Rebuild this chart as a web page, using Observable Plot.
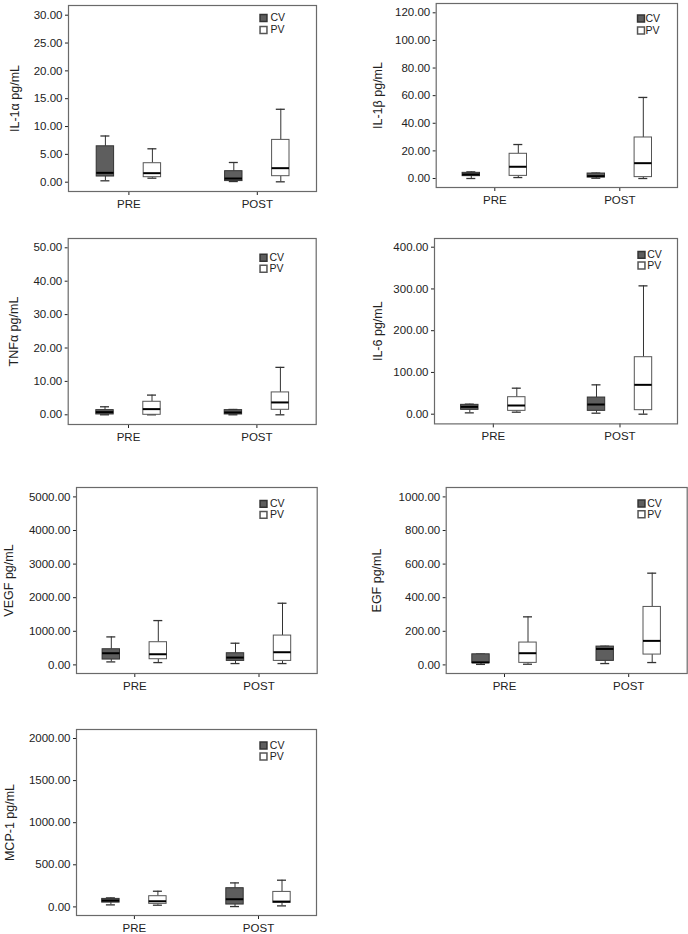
<!DOCTYPE html>
<html><head><meta charset="utf-8">
<script src="https://cdn.jsdelivr.net/npm/d3@7"></script>
<script src="https://cdn.jsdelivr.net/npm/@observablehq/plot@0.6"></script>
<style>
body{margin:0;background:#fff}
#c{position:relative;width:688px;height:934px;overflow:hidden;background:#fff}
#c svg{position:absolute;font-family:"Liberation Sans",Arial,sans-serif}
</style></head><body><div id="c"></div>
<script>
const times = ["PRE", "POST"];
const groups = ["CV", "PV"];
// each row: time, group, min, q1, median, q3, max (pg/mL)
const il1a = [
  ["PRE", "CV", 0.25, 1.02, 1.68, 6.45, 8.3],
  ["PRE", "PV", 0.72, 0.9, 1.62, 3.41, 6.0],
  ["POST", "CV", 0.12, 0.2, 0.66, 1.98, 3.54],
  ["POST", "PV", 0.07, 1.08, 2.52, 7.6, 13.1]
];
const il1b = [
  ["PRE", "CV", 0.0, 1.7, 2.9, 4.1, 4.8],
  ["PRE", "PV", 0.7, 1.9, 8.5, 17.9, 24.6],
  ["POST", "CV", 0.2, 0.7, 1.7, 3.6, 3.9],
  ["POST", "PV", 0.0, 1.0, 11.1, 29.7, 58.7]
];
const tnfa = [
  ["PRE", "CV", 0.0, 0.1, 0.8, 1.4, 2.4],
  ["PRE", "PV", 0.0, 0.0, 1.7, 3.9, 5.9],
  ["POST", "CV", 0.0, 0.1, 0.7, 1.4, 1.6],
  ["POST", "PV", 0.0, 1.5, 3.7, 6.7, 14.2]
];
const il6 = [
  ["PRE", "CV", 3.2, 10.4, 17.6, 22.4, 24.0],
  ["PRE", "PV", 4.8, 8.0, 20.8, 40.7, 62.3],
  ["POST", "CV", 2.4, 8.0, 23.2, 39.9, 70.3],
  ["POST", "PV", 0.0, 9.6, 70.3, 136.5, 307.4]
];
const vegf = [
  ["PRE", "CV", 89, 159, 347, 466, 833],
  ["PRE", "PV", 69, 169, 317, 675, 1319],
  ["POST", "CV", 40, 119, 218, 347, 645],
  ["POST", "PV", 40, 119, 377, 873, 1835]
];
const egf = [
  ["PRE", "CV", 3, 10, 15, 63, 64],
  ["PRE", "PV", 4, 12, 69.6, 133, 286],
  ["POST", "CV", 8, 24, 95, 109, 111],
  ["POST", "PV", 14, 61.5, 143, 345, 546]
];
const mcp1 = [
  ["PRE", "CV", 24, 51, 75, 95, 107],
  ["PRE", "PV", 20, 36, 67, 127, 186],
  ["POST", "CV", 4, 28, 91, 222, 285],
  ["POST", "PV", 12, 48, 63, 178, 317]
];
const yLabels = ["IL-1α pg/mL", "IL-1β pg/mL", "TNFα pg/mL", "IL-6 pg/mL", "VEGF pg/mL", "EGF pg/mL", "MCP-1 pg/mL"];
const il1aTicks = [0, 5, 10, 15, 20, 25, 30];
const il1bTicks = [0, 20, 40, 60, 80, 100, 120];
const tnfaTicks = [0, 10, 20, 30, 40, 50];
const il6Ticks = [0, 100, 200, 300, 400];
const vegfTicks = [0, 1000, 2000, 3000, 4000, 5000];
const egfTicks = [0, 200, 400, 600, 800, 1000];
const mcp1Ticks = [0, 500, 1000, 1500, 2000];

const datasets = [il1a, il1b, tnfa, il6, vegf, egf, mcp1];
const tickSets = [il1aTicks, il1bTicks, tnfaTicks, il6Ticks, vegfTicks, egfTicks, mcp1Ticks];

// page layout of each frame (pixels): left, right, top, bottom, y of 0, y of top tick, x of PRE, x of POST, label x, legend offsets
const layout = [
  {L: 68, R: 316, T: 5, B: 191, y0: 181.7, yM: 14.7, pre: 128.4, post: 256.8, lx: 14, sq: -53, tx: -46, d1: 12.5, d2: 24.5},
  {L: 435.7, R: 677, T: 2.7, B: 186.7, y0: 177.7, yM: 12, pre: 494.3, post: 619.3, lx: 377, sq: -36.5, tx: -32, d1: 15, d2: 27},
  {L: 67.7, R: 315.7, T: 237.7, B: 423.7, y0: 414, yM: 247, pre: 128, post: 256.4, lx: 14, sq: -52.7, tx: -46.7, d1: 19.3, d2: 30.3},
  {L: 434, R: 677, T: 238.3, B: 423.7, y0: 414, yM: 247, pre: 492.8, post: 619.5, lx: 377, sq: -36, tx: -30.3, d1: 16.4, d2: 27},
  {L: 76, R: 316.7, T: 487.3, B: 673.3, y0: 664.7, yM: 496.7, pre: 134.3, post: 258.5, lx: 8, sq: -53.7, tx: -47.3, d1: 16.4, d2: 27.4},
  {L: 445.7, R: 686.7, T: 487.3, B: 673.3, y0: 664.7, yM: 496.7, pre: 504, post: 628.2, lx: 376, sq: -45.7, tx: -40, d1: 16, d2: 26.7},
  {L: 76, R: 316, T: 729.3, B: 915.3, y0: 906.7, yM: 738.3, pre: 133.9, post: 258, lx: 9, sq: -53, tx: -46.7, d1: 16, d2: 27}
];

const CV_FILL = "#5e5e5e", CV_STROKE = "#333", PV_STROKE = "#555";
const container = document.getElementById("c");
const font = '"Liberation Sans",Arial,sans-serif';

datasets.forEach((data, i) => {
  const g = layout[i];
  const ticks = tickSets[i];
  const mt = 4, mb = 24;
  const colLeft = g.L < 344 ? 0 : 344;
  const width = 344;
  const ml = g.L - colLeft, mr = width - (g.R - colLeft);
  const height = mt + (g.B - g.T) + mb;
  const M = ticks[ticks.length - 1];
  const uy = (g.y0 - g.yM) / M;
  const ydom = [-(g.B - g.y0) / uy, M + (g.yM - g.T) / uy];
  const ux = g.post - g.pre;
  const xdom = [(g.L - g.pre) / ux, 1 + (g.R - g.post) / ux];
  const off = 23.5 / ux, hw = 8.7 / ux, cap = 4.5 / ux;
  const rows = data.map(([t, grp, mn, q1, md, q3, mx]) => ({
    t, grp, mn, q1, md, q3, mx,
    c: times.indexOf(t) + (grp === groups[0] ? -off : off)
  }));
  const cv = rows.filter(d => d.grp === groups[0]);
  const pv = rows.filter(d => d.grp === groups[1]);
  const svg = Plot.plot({
    width, height,
    marginLeft: ml, marginRight: mr, marginTop: mt, marginBottom: mb,
    style: {fontSize: "11.5px", fontFamily: font, color: "#222", background: "transparent", overflow: "visible"},
    x: {domain: xdom, ticks: [0, 1], tickFormat: k => times[k], tickSize: 4, tickPadding: 4, label: null},
    y: {domain: ydom, ticks, tickFormat: d3.format(".2f"), tickSize: 3, tickPadding: 3, label: null},
    marks: [
      Plot.ruleX(rows, {x: "c", y1: "q3", y2: "mx", stroke: "#333", strokeWidth: 1}),
      Plot.ruleX(rows, {x: "c", y1: "mn", y2: "q1", stroke: "#333", strokeWidth: 1}),
      Plot.ruleY(rows, {y: "mx", x1: d => d.c - cap, x2: d => d.c + cap, stroke: "#333", strokeWidth: 1.3}),
      Plot.ruleY(rows, {y: "mn", x1: d => d.c - cap, x2: d => d.c + cap, stroke: "#333", strokeWidth: 1.3}),
      Plot.rect(cv, {x1: d => d.c - hw, x2: d => d.c + hw, y1: "q1", y2: "q3", fill: CV_FILL, stroke: CV_STROKE, strokeWidth: 1}),
      Plot.rect(pv, {x1: d => d.c - hw, x2: d => d.c + hw, y1: "q1", y2: "q3", fill: "#fff", stroke: PV_STROKE, strokeWidth: 1}),
      Plot.ruleY(rows, {y: "md", x1: d => d.c - hw, x2: d => d.c + hw, stroke: "#000", strokeWidth: 2}),
      Plot.frame({stroke: "#6a6a6a", strokeWidth: 1.2}),
      Plot.dot([groups[0]], {frameAnchor: "top-right", dx: g.sq, dy: g.d1, symbol: "square", r: 3.9, fill: CV_FILL, stroke: CV_STROKE}),
      Plot.dot([groups[1]], {frameAnchor: "top-right", dx: g.sq, dy: g.d2, symbol: "square", r: 3.9, fill: "#fff", stroke: PV_STROKE}),
      Plot.text([groups[0]], {text: d => d, frameAnchor: "top-right", dx: g.tx, dy: g.d1, textAnchor: "start", lineAnchor: "middle", fontSize: 10.5, fill: "#222"}),
      Plot.text([groups[1]], {text: d => d, frameAnchor: "top-right", dx: g.tx, dy: g.d2, textAnchor: "start", lineAnchor: "middle", fontSize: 10.5, fill: "#222"}),
      Plot.text([yLabels[i]], {text: d => d, frameAnchor: "left", rotate: -90, dx: g.lx - g.L, textAnchor: "middle", lineAnchor: "middle", fontSize: 12.5, fill: "#222"})
    ]
  });
  svg.style.left = colLeft + "px";
  svg.style.top = (g.T - mt) + "px";
  container.appendChild(svg);
});
</script>
</body></html>
